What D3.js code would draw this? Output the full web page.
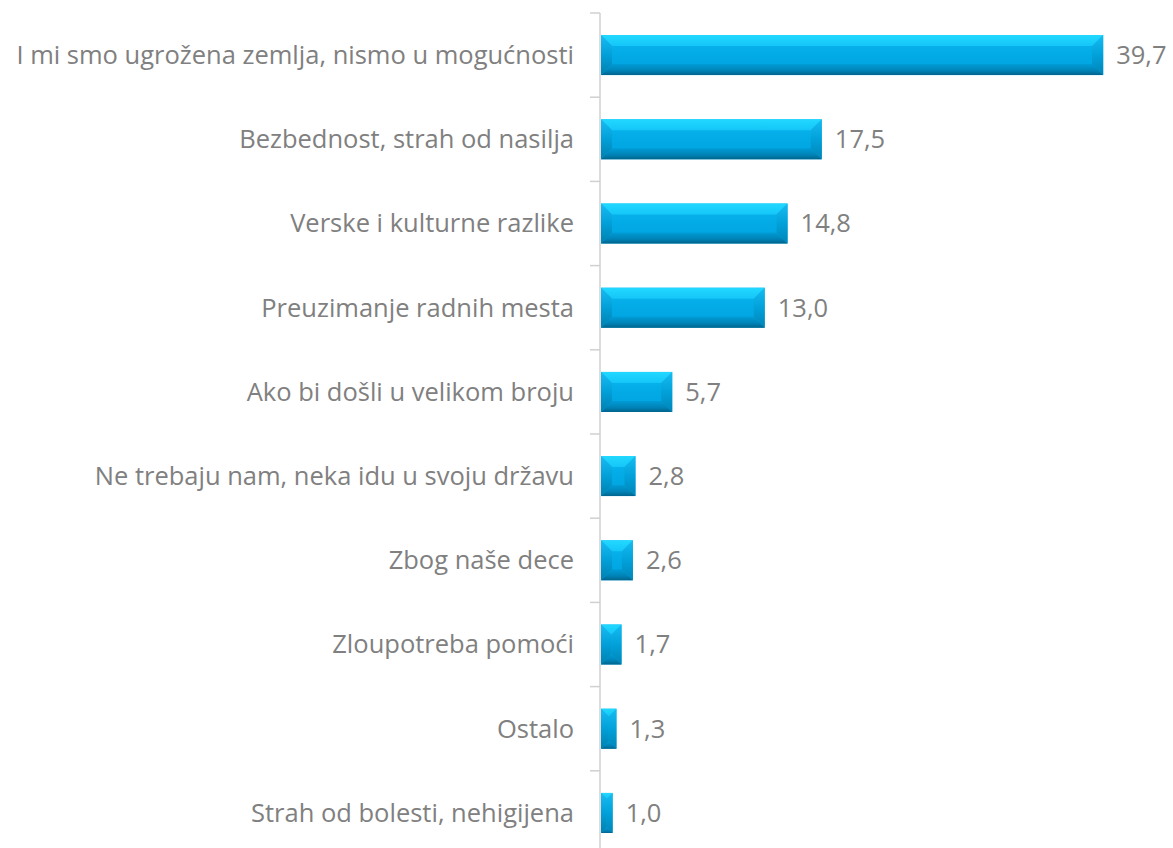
<!DOCTYPE html>
<html lang="sr">
<head>
    <meta charset="UTF-8">
    <script src="https://d3js.org/d3.v7.min.js"></script>
    <title>Razlozi</title>
    <style>
        body { margin: 0; background: #fff; }
        text { font-family: "Open Sans", "Noto Sans", sans-serif; fill: #808080; }
    </style>
</head>
<body>
<script>
    // categories top to bottom and their values (%)
    const categories = [
        "I mi smo ugrožena zemlja, nismo u mogućnosti",
        "Bezbednost, strah od nasilja",
        "Verske i kulturne razlike",
        "Preuzimanje radnih mesta",
        "Ako bi došli u velikom broju",
        "Ne trebaju nam, neka idu u svoju državu",
        "Zbog naše dece",
        "Zloupotreba pomoći",
        "Ostalo",
        "Strah od bolesti, nehigijena"
    ];
    const values = [39.7, 17.5, 14.8, 13.0, 5.7, 2.8, 2.6, 1.7, 1.3, 1.0];
    const valueLabels = ["39,7", "17,5", "14,8", "13,0", "5,7", "2,8", "2,6", "1,7", "1,3", "1,0"];

    const width = 1173, height = 848;
    const x0 = 600;

    const svg = d3.select("body").append("svg")
        .attr("width", width)
        .attr("height", height);

    const x = d3.scaleLinear().domain([0, 40]).range([x0, 1107]);
    const y = d3.scaleBand().domain(categories).range([13, 855]).paddingInner(0.525).paddingOuter(0.2625);

    // gradients for the bevel facets
    const defs = svg.append("defs");
    function vGrad(id, stops) {
        const g = defs.append("linearGradient").attr("id", id)
            .attr("x1", 0).attr("y1", 0).attr("x2", 0).attr("y2", 1);
        stops.forEach(s => g.append("stop").attr("offset", s[0]).attr("stop-color", s[1]));
    }
    vGrad("gFace", [[0, "#0cb8f0"], [0.5, "#02aae6"], [1, "#00a2de"]]);
    vGrad("gTop", [[0, "#22d8ff"], [1, "#14c6f8"]]);
    vGrad("gBottom", [[0, "#009cd6"], [0.6, "#0082b6"], [1, "#00648c"]]);
    vGrad("gSide", [[0, "#18bcf2"], [0.5, "#029fd8"], [1, "#0080b0"]]);

    // axis line and tick marks between categories
    const axis = svg.append("g").attr("stroke", "#d0d0d0").attr("stroke-width", 1.5);
    axis.append("line").attr("x1", x0).attr("x2", x0).attr("y1", 13).attr("y2", height);
    const step = y.step();
    d3.range(categories.length + 1).forEach(i => {
        const ty = 13 + i * step;
        axis.append("line").attr("x1", x0 - 10).attr("x2", x0).attr("y1", ty).attr("y2", ty);
    });

    // bevelled bars
    const bars = svg.selectAll("g.bar")
        .data(values)
        .join("g")
        .attr("class", "bar");

    bars.each(function(d, i) {
        const g = d3.select(this);
        const xl = x(0) + 1, xr = x(d);
        const yt = y(categories[i]), yb = yt + y.bandwidth();
        const w = xr - xl, h = yb - yt;
        const b = Math.min(11, w / 2, h / 2);
        g.append("rect").attr("x", xl).attr("y", yt).attr("width", w).attr("height", h)
            .attr("fill", "url(#gFace)");
        // top facet
        g.append("polygon")
            .attr("points", [[xl, yt], [xr, yt], [xr - b, yt + b], [xl + b, yt + b]].join(" "))
            .attr("fill", "url(#gTop)");
        // bottom facet
        g.append("polygon")
            .attr("points", [[xl, yb], [xr, yb], [xr - b, yb - b], [xl + b, yb - b]].join(" "))
            .attr("fill", "url(#gBottom)");
        // left and right facets
        g.append("polygon")
            .attr("points", [[xl, yt], [xl + b, yt + b], [xl + b, yb - b], [xl, yb]].join(" "))
            .attr("fill", "url(#gSide)");
        g.append("polygon")
            .attr("points", [[xr, yt], [xr - b, yt + b], [xr - b, yb - b], [xr, yb]].join(" "))
            .attr("fill", "url(#gSide)").attr("opacity", 0.85);
    });

    // category labels
    svg.selectAll("text.cat")
        .data(categories)
        .join("text")
        .attr("class", "cat")
        .attr("x", 574)
        .attr("y", d => y(d) + y.bandwidth() / 2)
        .attr("dy", "0.35em")
        .attr("text-anchor", "end")
        .attr("font-size", 25.5)
        .text(d => d);

    // value labels
    svg.selectAll("text.val")
        .data(values)
        .join("text")
        .attr("class", "val")
        .attr("x", d => x(d) + 13)
        .attr("y", (d, i) => y(categories[i]) + y.bandwidth() / 2)
        .attr("dy", "0.35em")
        .attr("font-size", 25.5)
        .text((d, i) => valueLabels[i]);
</script>
</body>
</html>
